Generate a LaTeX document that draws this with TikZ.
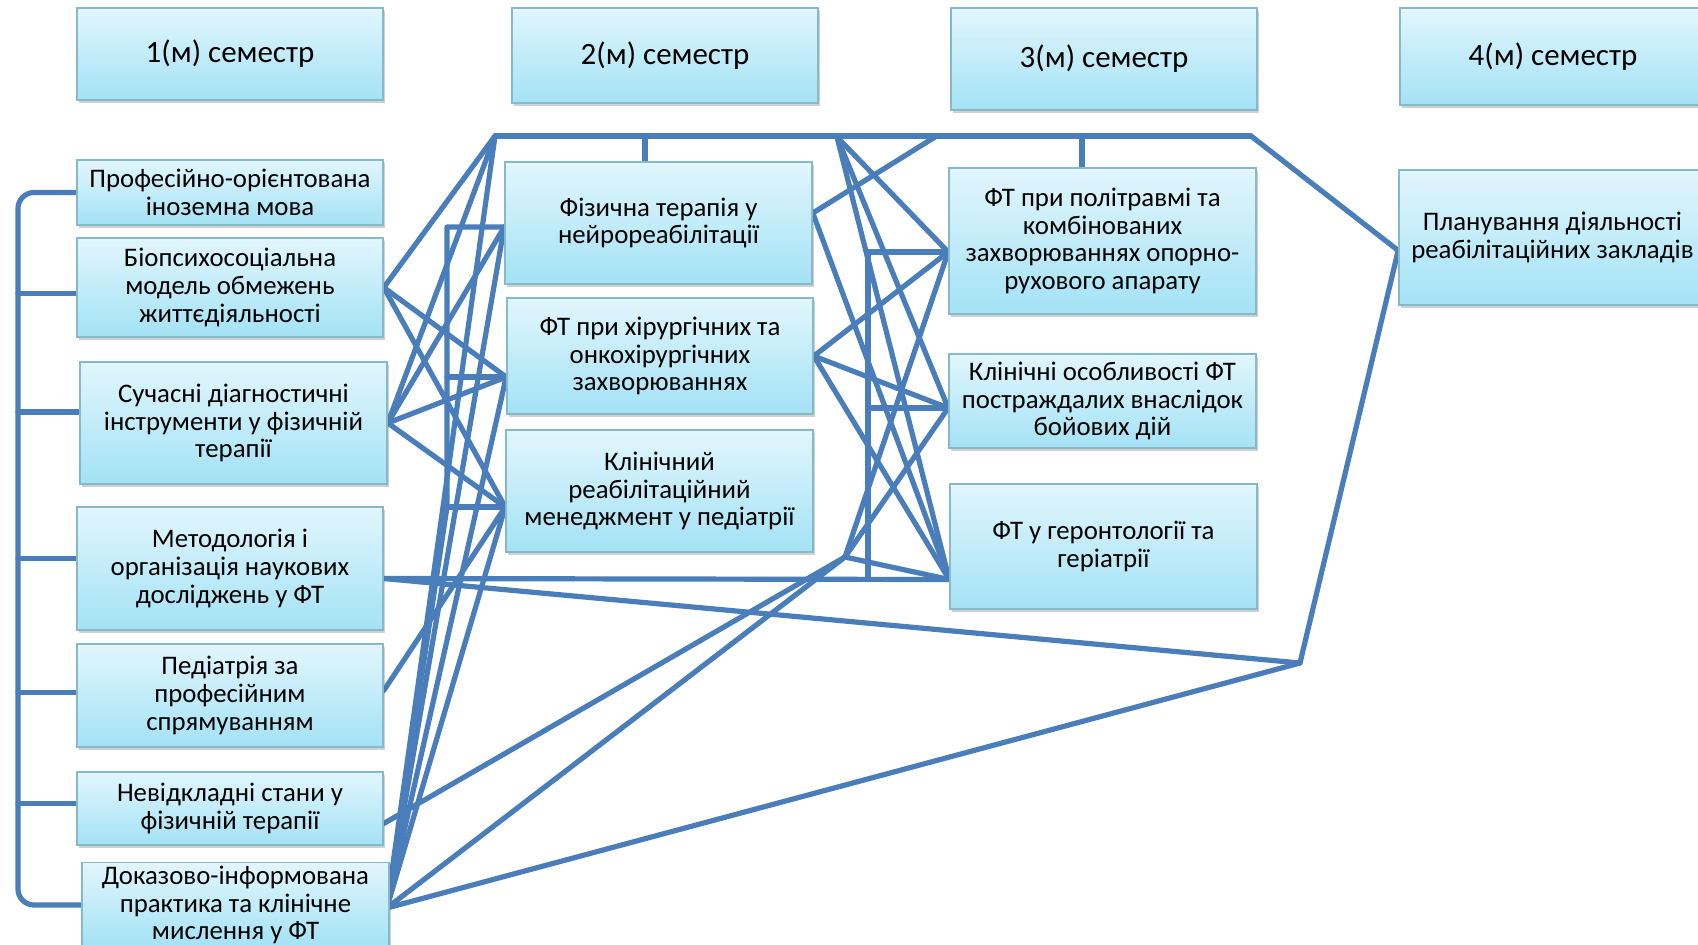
\documentclass[tikz,border=0pt]{standalone}
\usepackage{fontspec}
\setmainfont{Carlito}
\usetikzlibrary{calc,shadows,backgrounds}
\definecolor{linec}{HTML}{4A7EBB}
\definecolor{boxtop}{HTML}{E2F6FD}
\definecolor{boxbot}{HTML}{A3E2F5}
\definecolor{boxline}{HTML}{86B9CA}
\tikzset{
  box/.style={draw=boxline, line width=0.8pt, top color=boxtop, bottom color=boxbot,
    align=center, inner sep=0pt, text=black,
    font=\fontsize{13.4}{13.8}\selectfont,
    drop shadow={shadow xshift=1.2pt, shadow yshift=-1.5pt, opacity=0.3, fill=black!60}},
  head/.style={box, font=\fontsize{15.5}{17}\selectfont},
  conn/.style={draw=linec, line width=2.6pt, line join=round, line cap=round},
}
\begin{document}
\begin{tikzpicture}[x=0.5pt,y=-0.5pt]
\useasboundingbox (0,0) rectangle (1698,944);
\clip (0,0) rectangle (1698,944);

\path
 node[head, minimum width=153pt, minimum height=46pt]   (H1) at (230,54)    {1(м) семестр}
 node[head, minimum width=153pt, minimum height=47.5pt] (H2) at (665,55.5)  {2(м) семестр}
 node[head, minimum width=153pt, minimum height=51pt]   (H3) at (1104,59)   {3(м) семестр}
 node[head, minimum width=153pt, minimum height=48.5pt] (H4) at (1553,56.5) {4(м) семестр};

\path
 node[box, minimum width=153pt, minimum height=32.5pt] (L1) at (230,192.5) {Професійно-орієнтована\\іноземна мова}
 node[box, minimum width=153pt, minimum height=49.5pt] (L2) at (230,287.5) {Біопсихосоціальна\\модель обмежень\\життєдіяльності}
 node[box, minimum width=153.5pt, minimum height=61pt] (L3) at (233.5,423) {Сучасні діагностичні\\інструменти у фізичній\\терапії}
 node[box, minimum width=153pt, minimum height=61.5pt] (L4) at (230,568.5) {Методологія і\\організація наукових\\досліджень у ФТ}
 node[box, minimum width=153pt, minimum height=51.5pt] (L5) at (230,695.5) {Педіатрія за\\професійним\\спрямуванням}
 node[box, minimum width=153pt, minimum height=36.5pt] (L6) at (230,808.5) {Невідкладні стани у\\фізичній терапії}
 node[box, minimum width=153.5pt, minimum height=42.5pt] (L7) at (235.5,905) {Доказово-інформована\\практика та клінічне\\мислення у ФТ}
 node[box, minimum width=153.5pt, minimum height=61pt] (M1) at (658.5,223) {Фізична терапія у\\нейрореабілітації}
 node[box, minimum width=153pt, minimum height=58pt]   (M2) at (660,356)   {ФТ при хірургічних та\\онкохірургічних\\захворюваннях}
 node[box, minimum width=153.5pt, minimum height=61pt] (M3) at (659.5,491) {Клінічний\\реабілітаційний\\менеджмент у педіатрії}
 node[box, minimum width=153.5pt, minimum height=73pt] (R1) at (1102.5,241) {ФТ при політравмі та\\комбінованих\\захворюваннях опорно-\\рухового апарату}
 node[box, minimum width=153.5pt, minimum height=47pt] (R2) at (1102.5,401) {Клінічні особливості ФТ\\постраждалих внаслідок\\бойових дій}
 node[box, minimum width=153.5pt, minimum height=62.5pt] (R3) at (1103.5,546.5) {ФТ у геронтології та\\геріатрії}
 node[box, minimum width=153.5pt, minimum height=67.5pt] (P1) at (1552.5,237.5) {Планування діяльності\\реабілітаційних закладів};

% ---------- anchor coordinates ----------
\coordinate (TBL) at (495,136);
\coordinate (T2)  at (837,137);
\coordinate (T3)  at (935,137);
\coordinate (TBR) at (1251,136);
\coordinate (tk1) at (645,136);
\coordinate (tk2) at (1082,136);
\coordinate (X)   at (845,557);
\coordinate (Y)   at (1300,663);
\coordinate (spine) at (18,0);
\coordinate (lbx) at (447,0);
\coordinate (rbx) at (868,0);

\coordinate (l2e) at (L2.east);
\coordinate (l3e) at (L3.east);
\coordinate (l4e) at ($(L4.east)+(0,10)$);
\coordinate (l5e) at ($(L5.east)+(0,-5)$);
\coordinate (l6e) at ($(L6.east)+(0,15)$);
\coordinate (l7e) at ($(L7.east)+(-3,3)$);
\coordinate (m1w) at ($(M1.west)+(0,4)$);
\coordinate (m2w) at ($(M2.west)+(0,21)$);
\coordinate (m3w) at ($(M3.west)+(0,16)$);
\coordinate (m1e) at ($(M1.east)+(0,-10)$);
\coordinate (m2e) at (M2.east);
\coordinate (r1w) at ($(R1.west)+(0,11)$);
\coordinate (r2w) at ($(R2.west)+(0,7)$);
\coordinate (r3w) at ($(R3.west)+(0,33)$);
\coordinate (p1w) at ($(P1.west)+(0,13)$);

\begin{scope}[on background layer]
\fill[white] (0,0) rectangle (1698,944);
% left spine bracket
\draw[conn, rounded corners=8pt] (L1.west) -- (L1.west -| spine) -- (L7.west -| spine) -- (L7.west);
\foreach \n/\d in {L2/6,L3/-11,L4/-10,L5/-3,L6/-5}
  \draw[conn] ($(\n.west)+(0,\d)$) coordinate (tmp) -- (tmp -| spine);
% top bus
\draw[conn] (TBL) -- (TBR);
\draw[conn] (tk1) -- (tk1 |- M1.north);
\draw[conn] (tk2) -- (tk2 |- R1.north);
\draw[conn] (TBR) -- (p1w) -- (Y) -- (l4e);
\draw[conn] (Y) -- (l7e);
\draw[conn] (l4e) -- (r3w);
% left bracket of semester 2
\draw[conn] (m1w) -- (lbx |- m1w) -- (lbx |- m3w) -- (l7e);
\draw[conn] (lbx |- m2w) -- (m2w);
\draw[conn] (lbx |- m3w) -- (m3w);
% right bracket of semester 3
\draw[conn] (r1w) -- (rbx |- r1w) -- (rbx |- r3w) -- (r3w);
\draw[conn] (rbx |- r2w) -- (r2w);
% fans
\foreach \t in {TBL,m2w,m3w} \draw[conn] (l2e) -- (\t);
\foreach \t in {TBL,m1w,m2w,m3w} \draw[conn] (l3e) -- (\t);
\draw[conn] (l5e) -- (m3w);
\draw[conn] (l6e) -- (X);
\foreach \t in {TBL,m1w,m2w,m3w,X} \draw[conn] (l7e) -- (\t);
\foreach \t in {r1w,r2w,r3w} \draw[conn] (X) -- (\t);
\draw[conn] (m1e) -- (T3);
\draw[conn] (m1e) -- (r3w);
\foreach \t in {r1w,r2w,r3w} \draw[conn] (m2e) -- (\t);
\foreach \t in {r1w,r2w,r3w} \draw[conn] (T2) -- (\t);
\end{scope}
\end{tikzpicture}
\end{document}
